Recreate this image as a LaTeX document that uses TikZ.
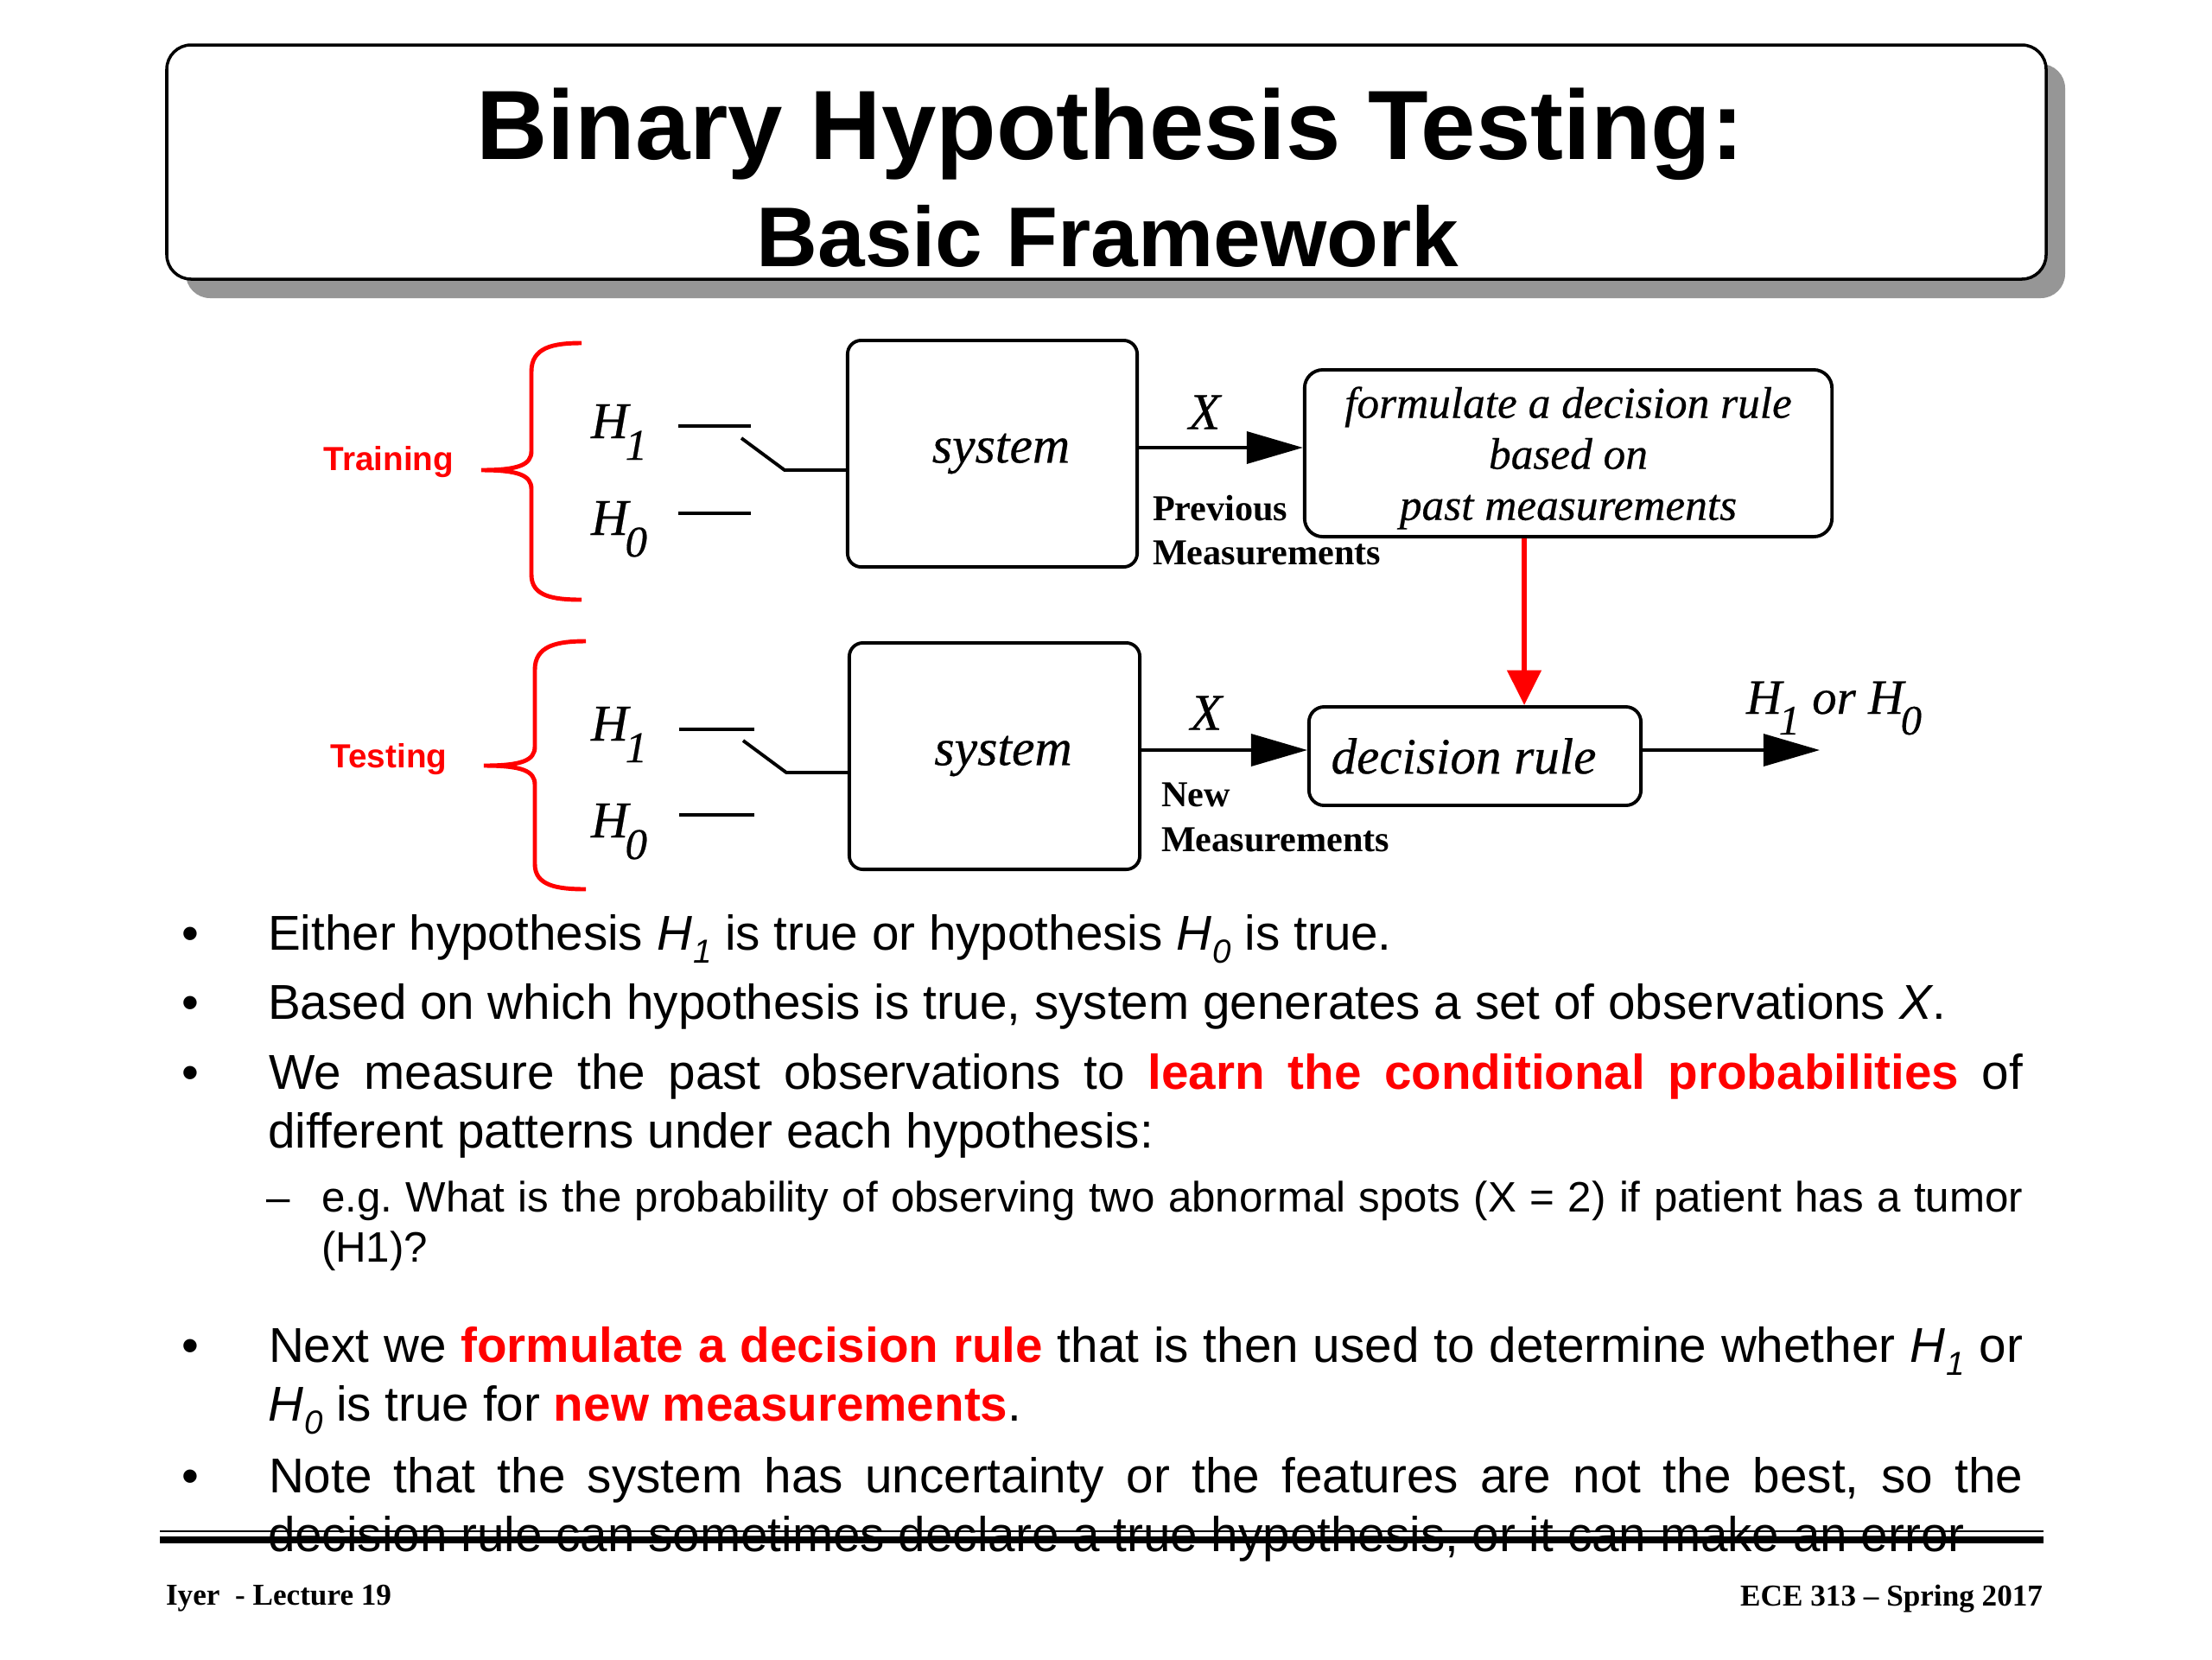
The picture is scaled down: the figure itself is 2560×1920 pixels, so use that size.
\documentclass[tikz,border=0pt]{standalone}
\usepackage{fontspec}
\usepackage{graphicx}
\setmainfont{Liberation Serif}
\newfontfamily\arialf{Liberation Sans}
\newfontfamily\diaserif[FakeBold=0.4]{Liberation Serif}
\usetikzlibrary{arrows.meta}
\definecolor{slidered}{RGB}{255,0,0}
\definecolor{shadowgray}{RGB}{150,150,150}
\newcommand{\HypDia}[1]{{\itshape H\kern-0.06em\raisebox{-0.42em}{\scalebox{0.85}{#1}}}}
\newcommand{\HypTxt}[1]{\textit{H}\kern0.02em\raisebox{-0.27em}{\scalebox{0.68}{\textit{#1}}}}
\newcommand{\RedB}[1]{\textcolor{slidered}{\bfseries #1}}
\frenchspacing
\begin{document}
\begin{tikzpicture}[x=0.01cm,y=-0.01cm,
  txt/.style={inner sep=0pt,outer sep=0pt},
  wire/.style={line width=1.1pt},
  blockbox/.style={draw,line width=1.1pt,rounded corners=4.5pt,inner sep=0pt},
  blackarrow/.style={line width=1.1pt,-{Triangle[length=18.5pt,width=10.5pt]}},
  redarrow/.style={draw=slidered,line width=1.6pt,-{Triangle[length=11.5pt,width=11pt]}},
  bracestyle/.style={draw=slidered,line width=1.4pt},
  diafont/.style={font=\diaserif\fontsize{17}{19}\selectfont\itshape},
  phase/.style={txt,text=slidered,font=\arialf\bfseries\fontsize{11}{13}\selectfont},
  meas/.style={txt,anchor=base west,font=\bfseries\fontsize{12}{13.9}\selectfont},
  bul/.style={txt,anchor=base west,font=\arialf\fontsize{16.1}{19}\selectfont},
  subbul/.style={txt,anchor=base west,font=\arialf\fontsize{14}{17}\selectfont},
  foot/.style={txt,font=\bfseries\fontsize{10}{12}\selectfont}
]
\useasboundingbox (0,0) rectangle (2560,1920);
\fill[white] (0,0) rectangle (2560,1920);

% ---- title
\fill[shadowgray,rounded corners=8pt] (215,74) rectangle (2390,345);
\draw[fill=white,line width=1pt,rounded corners=8pt] (193,52) rectangle (2368,323);
\node[txt,anchor=base,font=\arialf\bfseries\fontsize{32.4}{36}\selectfont] (title1) at (1285,184) {Binary Hypothesis Testing:};
\node[txt,anchor=base,font=\arialf\bfseries\fontsize{27.9}{32}\selectfont] (title2) at (1282,308) {Basic Framework};

% ---- training row
\draw[bracestyle] (673,397) .. controls (640,397) and (615,402) .. (615,430) -- (615,522) .. controls (615,538) and (600,544) .. (557,544) .. controls (600,544) and (615,550) .. (615,566) -- (615,665) .. controls (615,690) and (640,694) .. (673,694);
\node[phase] (train) at (450,535) {Training};
\node[txt,diafont,anchor=base west] (th1) at (684,507) {\HypDia{1}};
\node[txt,diafont,anchor=base west] (th0) at (684,619) {\HypDia{0}};
\node[blockbox,minimum width=3.35cm,minimum height=2.62cm,diafont] (sys1) at (1148.5,525) {\hspace*{0.2cm}system};
\coordinate (t1a) at (785,493); \coordinate (t1b) at (869,493);
\coordinate (t1c) at (858,507); \coordinate (t1d) at (908,544);
\coordinate (t0a) at (785,594); \coordinate (t0b) at (869,594);
\draw[wire] (t1a) -- (t1b);
\draw[wire] (t0a) -- (t0b);
\draw[wire] (t1c) -- (t1d) -- (t1d -| sys1.west);
\node[blockbox,rounded corners=6pt,minimum width=6.10cm,minimum height=1.93cm] (form) at (1815,524.5) {};
\node[txt,align=center,font=\diaserif\fontsize{14.6}{16.8}\selectfont\itshape] (formtext) at (1815,530) {formulate a decision rule\\based on\\past measurements};
\draw[blackarrow] ([yshift=0.07cm]sys1.east) -- ([yshift=0.07cm]sys1.east -| form.west);
\node[txt,diafont] (x1) at (1394,477) {X};
\node[meas] (prev1) at (1334,602) {Previous};
\node[meas] (prev2) at (1334,653) {Measurements};

% ---- testing row
\draw[bracestyle] (678,742) .. controls (645,742) and (619,747) .. (619,775) -- (619,864) .. controls (619,880) and (604,886) .. (560,886) .. controls (604,886) and (619,892) .. (619,908) -- (619,1000) .. controls (619,1025) and (645,1029) .. (678,1029);
\node[phase] (test) at (450,879) {Testing};
\node[txt,diafont,anchor=base west] (sh1) at (684,857) {\HypDia{1}};
\node[txt,diafont,anchor=base west] (sh0) at (684,969) {\HypDia{0}};
\node[blockbox,minimum width=3.36cm,minimum height=2.62cm,diafont] (sys2) at (1151,875) {\hspace*{0.2cm}system};
\coordinate (s1a) at (786,844); \coordinate (s1b) at (873,844);
\coordinate (s1c) at (860,857); \coordinate (s1d) at (910,894);
\coordinate (s0a) at (786,943); \coordinate (s0b) at (873,943);
\draw[wire] (s1a) -- (s1b);
\draw[wire] (s0a) -- (s0b);
\draw[wire] (s1c) -- (s1d) -- (s1d -| sys2.west);
\node[blockbox,rounded corners=5pt,minimum width=3.84cm,minimum height=1.14cm,font=\diaserif\fontsize{16.8}{19}\selectfont\itshape] (dec) at (1707,875) {\hspace*{-0.26cm}decision rule};
\draw[blackarrow] ([yshift=0.07cm]sys2.east) -- ([yshift=0.07cm]dec.west);
\node[txt,diafont] (x2) at (1396,825) {X};
\node[meas] (new1) at (1344,933) {New};
\node[meas] (new2) at (1344,985) {Measurements};
\coordinate (out) at (2106,868);
\draw[blackarrow] ([yshift=0.07cm]dec.east) -- (out);
\node[txt,anchor=base west,font=\diaserif\fontsize{16.2}{19}\selectfont\itshape] (res) at (2021,826) {\HypDia{1} or \HypDia{0}};
\draw[redarrow] ([xshift=-0.51cm]form.south) -- ([xshift=0.57cm]dec.north);

% ---- bullets
\foreach \yy/\nm in {1099/d1,1179/d2,1260/d3,1576/d4,1727/d5}
  \node[txt,anchor=base,font=\arialf\fontsize{16.1}{19}\selectfont] (\nm) at (220,\yy) {•};
\node[bul] (b1) at (310,1099) {Either hypothesis \HypTxt{1} is true or hypothesis \HypTxt{0} is true.};
\node[bul] (b2) at (310,1179) {Based on which hypothesis is true, system generates a set of observations \textit{X}.};
\node[bul] (b3a) at (311,1260) {\makebox[20.29cm][s]{We measure the past observations to \RedB{learn the conditional probabilities} of}};
\node[bul] (b3b) at (310,1328) {different patterns under each hypothesis:};
\node[subbul] (dash) at (308,1402) {–};
\node[subbul] (s1) at (372,1402) {\makebox[19.68cm][s]{e.g. What is the probability of observing two abnormal spots (X = 2) if patient has a tumor}};
\node[subbul] (s2) at (372,1460) {(H1)?};
\node[bul] (b4a) at (311,1576) {\makebox[20.29cm][s]{Next we \RedB{formulate a decision rule} that is then used to determine whether \HypTxt{1} or}};
\node[bul] (b4b) at (310,1644) {\HypTxt{0} is true for \RedB{new measurements}.};
\node[bul] (b5a) at (311,1727) {\makebox[20.29cm][s]{Note that the system has uncertainty or the features are not the best, so the}};
\node[bul] (b5b) at (310,1795) {decision rule can sometimes declare a true hypothesis, or it can make an error};

% ---- footer
\coordinate (ruleL) at (185,1772); \coordinate (ruleR) at (2365,1772);
\draw[line width=0.5pt] (ruleL) -- (ruleR);
\draw[line width=2.3pt] ([yshift=-0.1cm]ruleL) -- ([yshift=-0.1cm]ruleR);
\node[foot,anchor=base west] (fl) at (192,1857) {Iyer\ \ - Lecture 19};
\node[foot,anchor=base east] (fr) at (2364,1858) {ECE 313 – Spring 2017};
\end{tikzpicture}
\end{document}
